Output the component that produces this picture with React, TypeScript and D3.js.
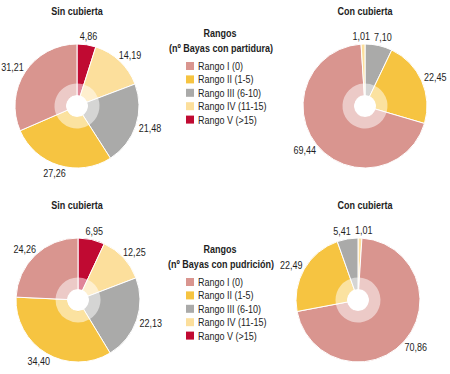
import React from 'react';
import * as d3 from 'd3';

// categories and colours (legend order)
const rangos = ['Rango I (0)', 'Rango II (1-5)', 'Rango III (6-10)', 'Rango IV (11-15)', 'Rango V (>15)'];
const colores = ['#d9958f', '#f6c441', '#aaaaa9', '#fcdf9c', '#c00a32'];

// values per category (I..V)
const partiduraSin = [31.21, 27.26, 21.48, 14.19, 4.86];
const partiduraCon = [69.44, 22.45, 7.1, 1.01, 0];
const pudricionSin = [24.26, 34.4, 22.13, 12.25, 6.95];
const pudricionCon = [70.86, 22.49, 5.41, 1.01, 0];

// order in which slices are drawn, clockwise from 12 o'clock
const ordenSin = [4, 3, 2, 1, 0];
const ordenParCon = [2, 1, 0, 3, 4];
const ordenPudCon = [3, 0, 1, 2, 4];

const W = 450;
const H = 374;
const R = 62;
const FONT = "'Liberation Sans', Arial, sans-serif";
const SQUEEZE = 0.82; // narrow look of the original type

interface Slice {
  cat: number;
  value: number;
}

const fmt = (v: number) => v.toFixed(2).replace('.', ',');

// text squeezed horizontally
const T: React.FC<{
  x: number;
  y: number;
  anchor?: string;
  bold?: boolean;
  children: React.ReactNode;
}> = ({ x, y, anchor = 'start', bold = false, children }) => (
  <text
    transform={`translate(${x},${y}) scale(${SQUEEZE},1)`}
    textAnchor={anchor}
    fontFamily={FONT}
    fontWeight={bold ? 'bold' : 'normal'}
    fontSize={11}
    fill="#1e1e1e"
  >
    {children}
  </text>
);

const Donut: React.FC<{
  cx: number;
  cy: number;
  values: number[];
  orden: number[];
  title: string;
  titleX: number;
  titleY: number;
}> = ({ cx, cy, values, orden, title, titleX, titleY }) => {
  const slices: Slice[] = orden.map((i) => ({ cat: i, value: values[i] }));
  const pie = d3
    .pie<Slice>()
    .sort(null)
    .value((d) => d.value);
  const arcs = pie(slices).filter((a) => a.data.value > 0);
  const arc = d3.arc<d3.PieArcDatum<Slice>>().innerRadius(0).outerRadius(R);
  const ring = d3.arc<d3.PieArcDatum<Slice>>().innerRadius(11).outerRadius(22.5);
  const labelArc = d3.arc<d3.PieArcDatum<Slice>>().innerRadius(66).outerRadius(66);

  // place each label just outside the rim, then push apart neighbours
  const labels = arcs.map((a) => {
    const [bx, by] = labelArc.centroid(a);
    const mid = (a.startAngle + a.endAngle) / 2;
    const txt = fmt(a.data.value);
    const w = txt.length * 4.4;
    return { txt, w, x: bx + (w / 2) * Math.sin(mid), y: by - 4.5 * Math.cos(mid) };
  });
  const sorted = [...labels].sort((p, q) => p.x - q.x);
  for (let k = 1; k < sorted.length; k++) {
    const p = sorted[k - 1];
    const q = sorted[k];
    if (Math.abs(p.y - q.y) < 10) {
      const need = (p.w + q.w) / 2 + 4;
      const gap = q.x - p.x;
      if (gap < need) {
        p.x -= (need - gap) / 2;
        q.x += (need - gap) / 2;
      }
    }
  }

  return (
    <g>
      <T x={titleX} y={titleY} anchor="middle" bold>
        {title}
      </T>
      <g transform={`translate(${cx},${cy})`}>
        {arcs.map((a, i) => (
          <path key={i} d={arc(a) || ''} fill={colores[a.data.cat]} stroke="#fff" strokeWidth={1} />
        ))}
        {arcs.map((a, i) => (
          <path key={'r' + i} d={ring(a) || ''} fill="#fff" fillOpacity={0.5} />
        ))}
        <circle r={11} fill="#fff" />
        {labels.map((l, i) => (
          <T key={'l' + i} x={l.x} y={l.y + 4} anchor="middle">
            {l.txt}
          </T>
        ))}
      </g>
    </g>
  );
};

const Legend: React.FC<{ x: number; y: number; subtitle: string }> = ({ x, y, subtitle }) => (
  <g>
    <T x={x + 34} y={y} anchor="middle" bold>
      Rangos
    </T>
    <T x={x + 35} y={y + 14.5} anchor="middle" bold>
      {subtitle}
    </T>
    {rangos.map((r, i) => (
      <g key={r}>
        <rect x={x} y={y + 29 - 4 + i * 13.4} width={8} height={8} fill={colores[i]} />
        <T x={x + 12} y={y + 29 + 4 + i * 13.4}>
          {r}
        </T>
      </g>
    ))}
  </g>
);

const App: React.FC = () => (
  <svg width={W} height={H} style={{ position: 'absolute', left: 0, top: 0, background: '#fff' }}>
    <Donut cx={77} cy={106} values={partiduraSin} orden={ordenSin} title="Sin cubierta" titleX={77} titleY={15} />
    <Donut cx={365} cy={106} values={partiduraCon} orden={ordenParCon} title="Con cubierta" titleX={365} titleY={15} />
    <Donut cx={78} cy={300} values={pudricionSin} orden={ordenSin} title="Sin cubierta" titleX={77} titleY={209} />
    <Donut cx={358} cy={300} values={pudricionCon} orden={ordenPudCon} title="Con cubierta" titleX={365} titleY={209} />
    <Legend x={186} y={37} subtitle="(nº Bayas con partidura)" />
    <Legend x={186} y={253} subtitle="(nº Bayas con pudrición)" />
  </svg>
);

export default App;
